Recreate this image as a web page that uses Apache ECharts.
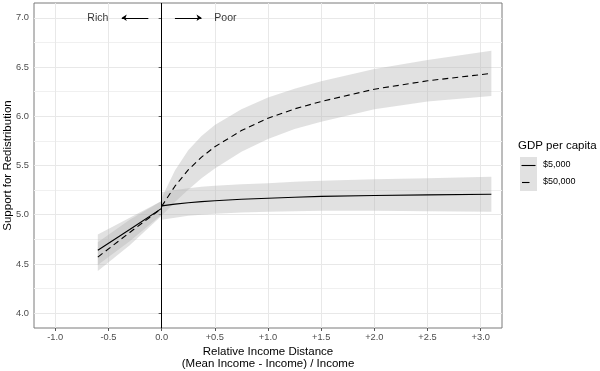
<!DOCTYPE html>
<html><head><meta charset="utf-8">
<script src="https://cdn.jsdelivr.net/npm/echarts@6/dist/echarts.min.js"></script>
<style>html,body{margin:0;padding:0;background:#fff}#c{width:600px;height:371px}</style>
</head><body><div id="c"></div>
<script>
// ---- tick values / labels ----
const xTickValues = [-1, -0.5, 0, 0.5, 1, 1.5, 2, 2.5, 3];
const xTickLabels = ['-1.0', '-0.5', '0.0', '+0.5', '+1.0', '+1.5', '+2.0', '+2.5', '+3.0'];
const yTickValues = [4, 4.5, 5, 5.5, 6, 6.5, 7];
const yTickLabels = ['4.0', '4.5', '5.0', '5.5', '6.0', '6.5', '7.0'];
const yMinorGridValues = [4.25, 4.75, 5.25, 5.75, 6.25, 6.75];

// ---- rich side (x <= 0) ----
const leftX = [-0.6, -0.3, 0];
const gdp5kLeftFit = [4.64, 4.85, 5.065];
const gdp5kLeftLo = [4.49, 4.73, 5.00];
const gdp5kLeftHi = [4.80, 4.97, 5.14];
const gdp50kLeftFit = [4.57, 4.82, 5.065];
const gdp50kLeftLo = [4.43, 4.69, 4.99];
const gdp50kLeftHi = [4.72, 4.95, 5.14];

// ---- poor side (x >= 0) ----
const rightX = [0, 0.125, 0.25, 0.375, 0.5, 0.75, 1, 1.25, 1.5, 2, 2.5, 3.1];
const gdp5kRightFit = [5.09, 5.108, 5.122, 5.133, 5.142, 5.157, 5.168, 5.178, 5.186, 5.195, 5.202, 5.208];
const gdp5kRightLo = [4.95, 4.97, 4.99, 5.00, 5.01, 5.022, 5.03, 5.036, 5.04, 5.04, 5.035, 5.03];
const gdp5kRightHi = [5.23, 5.25, 5.27, 5.285, 5.295, 5.31, 5.32, 5.335, 5.345, 5.36, 5.37, 5.385];
const gdp50kRightFit = [5.085, 5.29, 5.455, 5.585, 5.69, 5.855, 5.98, 6.075, 6.15, 6.275, 6.36, 6.435];
const gdp50kRightLo = [4.99, 5.13, 5.255, 5.37, 5.47, 5.64, 5.77, 5.87, 5.945, 6.07, 6.15, 6.205];
const gdp50kRightHi = [5.17, 5.45, 5.655, 5.80, 5.91, 6.07, 6.19, 6.28, 6.355, 6.48, 6.57, 6.665];

// ---- annotations ----
const annotX = [-0.6, 0.6];
const annotY = [7.0, 7.0];
const annotText = ['Rich', 'Poor'];
const arrowFromX = [-0.125, 0.125];
const arrowToX = [-0.375, 0.375];

const legendTitle = 'GDP per capita';
const legendLabels = ['$5,000', '$50,000'];

const FONT = '"Liberation Sans", Arial, sans-serif';
const RIBBON = 'rgba(179,179,179,0.4)';

function ribbon(xs, lo, hi) {
  return {
    type: 'custom', silent: true, z: 1, clip: true,
    data: xs.map((x, i) => [x, lo[i], hi[i]]),
    encode: { x: 0, y: [1, 2] },
    renderItem: function (params, api) {
      if (params.dataIndex !== 0) return;
      const pts = [];
      for (let i = 0; i < xs.length; i++) pts.push(api.coord([xs[i], hi[i]]));
      for (let i = xs.length - 1; i >= 0; i--) pts.push(api.coord([xs[i], lo[i]]));
      return { type: 'polygon', shape: { points: pts }, style: { fill: RIBBON } };
    }
  };
}
function fitLine(xs, ys, dashed) {
  return {
    type: 'line', z: 3, silent: true, symbol: 'none', smooth: false,
    data: xs.map((x, i) => [x, ys[i]]),
    lineStyle: { color: '#000', width: 1.1, type: dashed ? [6, 4] : 'solid' }
  };
}

const chart = echarts.init(document.getElementById('c'), null, { renderer: 'canvas' });
chart.setOption({
  animation: false,
  grid: { left: 34, right: 98, top: 3, bottom: 43, show: true, borderColor: '#7a7a7a', borderWidth: 1, backgroundColor: 'transparent', outerBoundsMode: 'none', containLabel: false },
  xAxis: {
    type: 'value', min: -1.2, max: 3.2,
    name: 'Relative Income Distance\n(Mean Income - Income) / Income',
    nameLocation: 'middle', nameGap: 17.5, nameMoveOverlap: false,
    nameTextStyle: { fontFamily: FONT, fontSize: 11.5, color: '#000', lineHeight: 12 },
    axisLine: { show: false },
    axisTick: { show: true, length: 3, customValues: xTickValues, lineStyle: { color: '#555' } },
    axisLabel: { customValues: xTickValues, margin: 4.5, fontFamily: FONT, fontSize: 9.3, color: '#4D4D4D',
      formatter: v => { const i = xTickValues.findIndex(t => Math.abs(t - v) < 1e-9); return i >= 0 ? xTickLabels[i] : ''; } },
    splitLine: { show: true, lineStyle: { color: '#E8E8E8', width: 1 } }
  },
  yAxis: [{
    type: 'value', min: 3.85, max: 7.15,
    name: 'Support for Redistribution', nameLocation: 'middle', nameGap: 20.5, nameMoveOverlap: false,
    nameTextStyle: { fontFamily: FONT, fontSize: 11.5, color: '#000' },
    axisLine: { show: false },
    axisTick: { show: true, length: 3, customValues: yTickValues, lineStyle: { color: '#555' } },
    axisLabel: { customValues: yTickValues, margin: 5, fontFamily: FONT, fontSize: 9.3, color: '#4D4D4D',
      formatter: v => { const i = yTickValues.findIndex(t => Math.abs(t - v) < 1e-9); return i >= 0 ? yTickLabels[i] : ''; } },
    splitLine: { show: true, lineStyle: { color: '#E8E8E8', width: 1 } }
  }, {
    type: 'value', min: 3.85, max: 7.15, position: 'left',
    axisLine: { show: false },
    axisTick: { show: false, customValues: yMinorGridValues },
    axisLabel: { show: false, customValues: yMinorGridValues },
    splitLine: { show: true, lineStyle: { color: '#F0F0F0', width: 1 } }
  }],
  series: [
    ribbon(leftX, gdp5kLeftLo, gdp5kLeftHi),
    ribbon(rightX, gdp5kRightLo, gdp5kRightHi),
    ribbon(leftX, gdp50kLeftLo, gdp50kLeftHi),
    ribbon(rightX, gdp50kRightLo, gdp50kRightHi),
    fitLine(leftX, gdp5kLeftFit, false),
    fitLine(rightX, gdp5kRightFit, false),
    fitLine(leftX, gdp50kLeftFit, true),
    fitLine(rightX, gdp50kRightFit, true),
    {
      type: 'scatter', z: 4, silent: true, symbolSize: 0,
      data: annotX.map((x, i) => [x, annotY[i], annotText[i]]),
      label: { show: true, position: 'inside', formatter: p => p.data[2], fontFamily: FONT, fontSize: 10.5, color: '#000' },
      markLine: {
        silent: true, symbol: ['none', 'arrow'], symbolSize: [5, 5], animation: false,
        label: { show: false },
        lineStyle: { color: '#000', width: 1, type: 'solid' },
        data: arrowFromX.map((x, i) => [{ coord: [x, annotY[i]] }, { coord: [arrowToX[i], annotY[i]] }])
      }
    },
    {
      type: 'line', z: 5, silent: true, data: [],
      markLine: {
        silent: true, symbol: ['none', 'none'], animation: false, label: { show: false },
        lineStyle: { color: '#000', width: 1, type: 'solid' },
        data: [{ xAxis: 0 }]
      }
    }
  ],
  graphic: [
    { type: 'text', left: 518, top: 140, style: { text: legendTitle, font: '11.5px ' + FONT, fill: '#000' } },
    { type: 'rect', shape: { x: 520, y: 157, width: 17, height: 17 }, style: { fill: RIBBON } },
    { type: 'rect', shape: { x: 520, y: 174, width: 17, height: 17 }, style: { fill: RIBBON } },
    { type: 'line', shape: { x1: 521.5, y1: 165.5, x2: 535.5, y2: 165.5 }, style: { stroke: '#000', lineWidth: 1.1 } },
    { type: 'line', shape: { x1: 522, y1: 182.5, x2: 536, y2: 182.5 }, style: { stroke: '#000', lineWidth: 1.1, lineDash: [7.5, 10] } },
    { type: 'text', left: 543, top: 160.5, style: { text: legendLabels[0], font: '9px ' + FONT, fill: '#000' } },
    { type: 'text', left: 543, top: 177.5, style: { text: legendLabels[1], font: '9px ' + FONT, fill: '#000' } }
  ]
});
</script>
</body></html>
